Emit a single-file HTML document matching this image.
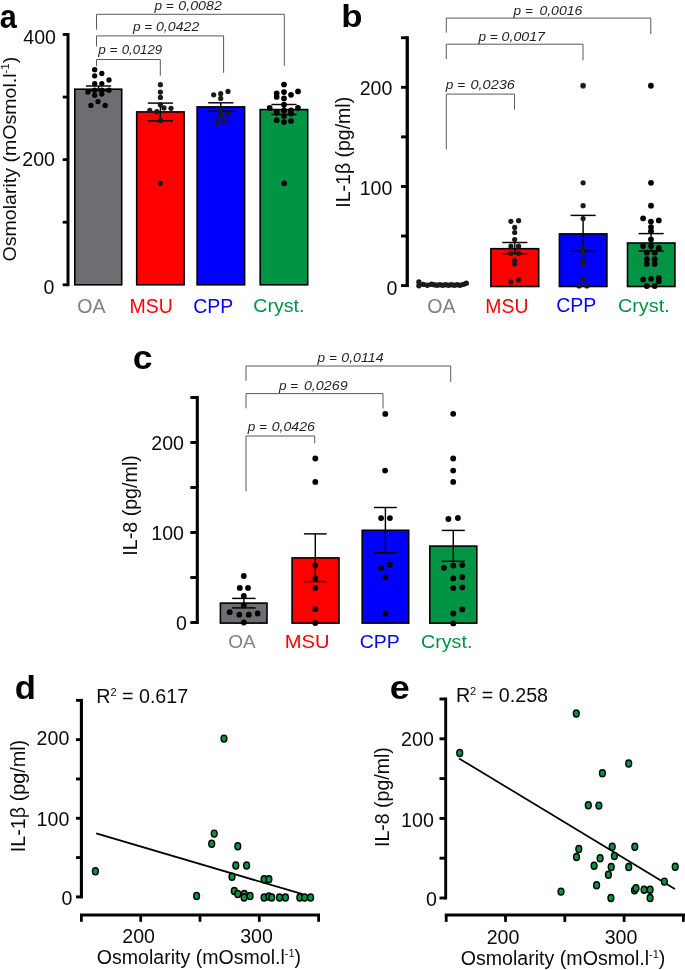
<!DOCTYPE html>
<html><head><meta charset="utf-8"><title>Figure</title>
<style>
html,body{margin:0;padding:0;background:#fff;}
svg{display:block;will-change:transform;font-family:'Liberation Sans', Arial, Helvetica, sans-serif;}
</style></head>
<body>
<svg width="685" height="970" viewBox="0 0 685 970" font-family="'Liberation Sans', Arial, Helvetica, sans-serif">
<rect x="0" y="0" width="685" height="970" fill="#fff"/>
<text transform="translate(-0.32 27.57) scale(1 1.0854)" font-size="30.65" fill="#000" font-weight="bold">a</text>
<line x1="68.00" y1="33.08" x2="68.00" y2="286.20" stroke="#000" stroke-width="3.0" stroke-linecap="butt"/>
<line x1="62.70" y1="284.80" x2="68.00" y2="284.80" stroke="#000" stroke-width="2.8" stroke-linecap="butt"/>
<line x1="62.70" y1="222.22" x2="68.00" y2="222.22" stroke="#000" stroke-width="2.8" stroke-linecap="butt"/>
<line x1="62.70" y1="159.64" x2="68.00" y2="159.64" stroke="#000" stroke-width="2.8" stroke-linecap="butt"/>
<line x1="62.70" y1="97.06" x2="68.00" y2="97.06" stroke="#000" stroke-width="2.8" stroke-linecap="butt"/>
<line x1="62.70" y1="34.48" x2="68.00" y2="34.48" stroke="#000" stroke-width="2.8" stroke-linecap="butt"/>
<text x="23.30" y="43.60" font-size="19.6" fill="#0c0c0c">400</text>
<text x="22.30" y="166.30" font-size="19.6" fill="#0c0c0c">200</text>
<text x="43.56" y="294.30" font-size="19.6" fill="#0c0c0c">0</text>
<text transform="translate(16.00 261.40) rotate(-90)" font-size="18.8" fill="#0c0c0c" textLength="204.60" lengthAdjust="spacingAndGlyphs">Osmolarity (mOsmol.l<tspan font-size="11" dy="-7">-1</tspan><tspan dy="7">)</tspan></text>
<rect x="74.80" y="89.20" width="46.90" height="195.60" fill="#6d6e71" stroke="#000" stroke-width="1.6"/>
<rect x="136.70" y="111.90" width="47.40" height="172.90" fill="#ff0000" stroke="#000" stroke-width="1.6"/>
<rect x="197.10" y="106.90" width="47.50" height="177.90" fill="#0000ff" stroke="#000" stroke-width="1.6"/>
<rect x="260.20" y="109.60" width="47.50" height="175.20" fill="#009444" stroke="#000" stroke-width="1.6"/>
<line x1="98.50" y1="86.00" x2="98.50" y2="90.80" stroke="#000" stroke-width="1.45" stroke-linecap="butt"/>
<line x1="85.90" y1="86.00" x2="111.10" y2="86.00" stroke="#000" stroke-width="1.45" stroke-linecap="butt"/>
<line x1="85.90" y1="90.80" x2="111.10" y2="90.80" stroke="#000" stroke-width="1.45" stroke-linecap="butt"/>
<line x1="160.40" y1="103.10" x2="160.40" y2="120.80" stroke="#000" stroke-width="1.45" stroke-linecap="butt"/>
<line x1="147.80" y1="103.10" x2="173.00" y2="103.10" stroke="#000" stroke-width="1.45" stroke-linecap="butt"/>
<line x1="147.80" y1="120.80" x2="173.00" y2="120.80" stroke="#000" stroke-width="1.45" stroke-linecap="butt"/>
<line x1="220.80" y1="102.80" x2="220.80" y2="111.10" stroke="#000" stroke-width="1.45" stroke-linecap="butt"/>
<line x1="208.20" y1="102.80" x2="233.40" y2="102.80" stroke="#000" stroke-width="1.45" stroke-linecap="butt"/>
<line x1="208.20" y1="111.10" x2="233.40" y2="111.10" stroke="#000" stroke-width="1.45" stroke-linecap="butt"/>
<line x1="284.00" y1="104.50" x2="284.00" y2="114.50" stroke="#000" stroke-width="1.45" stroke-linecap="butt"/>
<line x1="271.40" y1="104.50" x2="296.60" y2="104.50" stroke="#000" stroke-width="1.45" stroke-linecap="butt"/>
<line x1="271.40" y1="114.50" x2="296.60" y2="114.50" stroke="#000" stroke-width="1.45" stroke-linecap="butt"/>
<circle cx="94.70" cy="69.70" r="2.65" fill="#000"/>
<circle cx="94.70" cy="75.80" r="2.65" fill="#000"/>
<circle cx="101.80" cy="73.50" r="2.65" fill="#000"/>
<circle cx="109.00" cy="80.00" r="2.65" fill="#000"/>
<circle cx="94.70" cy="83.60" r="2.65" fill="#000"/>
<circle cx="101.80" cy="83.60" r="2.65" fill="#000"/>
<circle cx="87.90" cy="92.10" r="2.65" fill="#000"/>
<circle cx="94.70" cy="90.20" r="2.65" fill="#000"/>
<circle cx="101.80" cy="90.20" r="2.65" fill="#000"/>
<circle cx="109.00" cy="90.20" r="2.65" fill="#000"/>
<circle cx="94.70" cy="95.20" r="2.65" fill="#000"/>
<circle cx="101.80" cy="94.00" r="2.65" fill="#000"/>
<circle cx="98.00" cy="101.60" r="2.65" fill="#000"/>
<circle cx="90.90" cy="105.40" r="2.65" fill="#000"/>
<circle cx="105.20" cy="105.40" r="2.65" fill="#000"/>
<circle cx="160.40" cy="84.70" r="2.6" fill="#1d1a1b"/>
<circle cx="160.40" cy="92.10" r="2.6" fill="#1d1a1b"/>
<circle cx="160.40" cy="97.40" r="2.6" fill="#1d1a1b"/>
<circle cx="160.40" cy="104.70" r="2.6" fill="#1d1a1b"/>
<circle cx="149.80" cy="110.40" r="2.6" fill="#1d1a1b"/>
<circle cx="156.80" cy="111.70" r="2.6" fill="#1d1a1b"/>
<circle cx="164.00" cy="107.90" r="2.6" fill="#1d1a1b"/>
<circle cx="171.00" cy="108.30" r="2.6" fill="#1d1a1b"/>
<circle cx="160.40" cy="120.60" r="2.6" fill="#1d1a1b"/>
<circle cx="160.40" cy="183.30" r="2.6" fill="#1d1a1b"/>
<circle cx="213.70" cy="94.80" r="2.6" fill="#1d1a1b"/>
<circle cx="220.70" cy="93.70" r="2.6" fill="#1d1a1b"/>
<circle cx="228.00" cy="91.40" r="2.6" fill="#1d1a1b"/>
<circle cx="220.70" cy="98.40" r="2.6" fill="#1d1a1b"/>
<circle cx="220.70" cy="110.70" r="2.6" fill="#1d1a1b"/>
<circle cx="228.00" cy="114.10" r="2.6" fill="#1d1a1b"/>
<circle cx="220.70" cy="116.00" r="2.6" fill="#1d1a1b"/>
<circle cx="224.20" cy="121.20" r="2.6" fill="#1d1a1b"/>
<circle cx="217.10" cy="122.30" r="2.6" fill="#1d1a1b"/>
<circle cx="284.00" cy="84.50" r="2.85" fill="#000"/>
<circle cx="276.70" cy="93.30" r="2.85" fill="#000"/>
<circle cx="284.00" cy="92.10" r="2.85" fill="#000"/>
<circle cx="291.00" cy="94.80" r="2.85" fill="#000"/>
<circle cx="298.00" cy="91.40" r="2.85" fill="#000"/>
<circle cx="276.70" cy="96.90" r="2.85" fill="#000"/>
<circle cx="284.00" cy="98.40" r="2.85" fill="#000"/>
<circle cx="284.00" cy="104.70" r="2.85" fill="#000"/>
<circle cx="269.70" cy="107.90" r="2.85" fill="#000"/>
<circle cx="298.00" cy="107.90" r="2.85" fill="#000"/>
<circle cx="276.70" cy="111.70" r="2.85" fill="#000"/>
<circle cx="284.00" cy="110.40" r="2.85" fill="#000"/>
<circle cx="291.00" cy="110.40" r="2.85" fill="#000"/>
<circle cx="276.70" cy="113.00" r="2.85" fill="#000"/>
<circle cx="291.00" cy="113.60" r="2.85" fill="#000"/>
<circle cx="284.00" cy="116.00" r="2.85" fill="#000"/>
<circle cx="276.70" cy="120.20" r="2.85" fill="#000"/>
<circle cx="284.00" cy="122.10" r="2.85" fill="#000"/>
<circle cx="291.00" cy="121.00" r="2.85" fill="#000"/>
<circle cx="284.20" cy="183.30" r="2.85" fill="#000"/>
<polyline points="96.50,66.10 96.50,59.50 160.30,59.50 160.30,75.60" fill="none" stroke="#58595b" stroke-width="1"/>
<polyline points="96.50,46.40 96.50,35.90 223.60,35.90 223.60,72.80" fill="none" stroke="#58595b" stroke-width="1"/>
<polyline points="96.50,29.60 96.50,14.30 284.30,14.30 284.30,65.80" fill="none" stroke="#58595b" stroke-width="1"/>
<text font-size="13.6" font-style="italic" fill="#231f20"><tspan x="98.20" y="54.00">p =</tspan><tspan x="121.70" y="54.00" textLength="40.40" lengthAdjust="spacingAndGlyphs">0,0129</tspan></text>
<text font-size="13.6" font-style="italic" fill="#231f20"><tspan x="132.90" y="30.50">p =</tspan><tspan x="156.00" y="30.50" textLength="43.30" lengthAdjust="spacingAndGlyphs">0,0422</tspan></text>
<text font-size="13.6" font-style="italic" fill="#231f20"><tspan x="154.40" y="10.40">p =</tspan><tspan x="178.30" y="10.40" textLength="43.50" lengthAdjust="spacingAndGlyphs">0,0082</tspan></text>
<text transform="translate(77.32 312.61) scale(1 0.9859)" font-size="19.57" fill="#808285">OA</text>
<text transform="translate(129.54 312.61) scale(1 0.9912)" font-size="19.47" fill="#ff0000">MSU</text>
<text transform="translate(193.23 312.61) scale(1 0.9901)" font-size="19.49" fill="#0000ff">CPP</text>
<text transform="translate(253.22 312.48) scale(1 0.9738)" font-size="19.64" fill="#009444">Cryst.</text>
<text transform="translate(341.33 27.38) scale(1 0.9213)" font-size="34.85" fill="#000" font-weight="bold">b</text>
<line x1="407.25" y1="36.28" x2="407.25" y2="287.05" stroke="#000" stroke-width="3.3" stroke-linecap="butt"/>
<line x1="401.00" y1="285.60" x2="407.25" y2="285.60" stroke="#000" stroke-width="2.9" stroke-linecap="butt"/>
<line x1="401.00" y1="236.03" x2="407.25" y2="236.03" stroke="#000" stroke-width="2.9" stroke-linecap="butt"/>
<line x1="401.00" y1="186.45" x2="407.25" y2="186.45" stroke="#000" stroke-width="2.9" stroke-linecap="butt"/>
<line x1="401.00" y1="136.88" x2="407.25" y2="136.88" stroke="#000" stroke-width="2.9" stroke-linecap="butt"/>
<line x1="401.00" y1="87.30" x2="407.25" y2="87.30" stroke="#000" stroke-width="2.9" stroke-linecap="butt"/>
<line x1="401.00" y1="37.73" x2="407.25" y2="37.73" stroke="#000" stroke-width="2.9" stroke-linecap="butt"/>
<text x="359.70" y="95.00" font-size="19.6" fill="#0c0c0c">200</text>
<text x="359.70" y="194.60" font-size="19.6" fill="#0c0c0c">100</text>
<text x="386.46" y="295.10" font-size="19.6" fill="#0c0c0c">0</text>
<text transform="translate(350.40 207.70) rotate(-90)" font-size="19.6" fill="#0c0c0c" textLength="110.90" lengthAdjust="spacingAndGlyphs">IL-1β (pg/ml)</text>
<rect x="490.90" y="248.70" width="47.80" height="37.80" fill="#ff0000" stroke="#000" stroke-width="1.6"/>
<rect x="559.40" y="233.90" width="47.50" height="52.60" fill="#0000ff" stroke="#000" stroke-width="1.6"/>
<rect x="627.50" y="243.00" width="47.40" height="43.50" fill="#009444" stroke="#000" stroke-width="1.6"/>
<line x1="514.80" y1="242.50" x2="514.80" y2="253.70" stroke="#000" stroke-width="1.45" stroke-linecap="butt"/>
<line x1="502.20" y1="242.50" x2="527.40" y2="242.50" stroke="#000" stroke-width="1.45" stroke-linecap="butt"/>
<line x1="502.20" y1="253.70" x2="527.40" y2="253.70" stroke="#000" stroke-width="1.45" stroke-linecap="butt"/>
<line x1="583.10" y1="215.40" x2="583.10" y2="251.30" stroke="#000" stroke-width="1.45" stroke-linecap="butt"/>
<line x1="570.50" y1="215.40" x2="595.70" y2="215.40" stroke="#000" stroke-width="1.45" stroke-linecap="butt"/>
<line x1="570.50" y1="251.30" x2="595.70" y2="251.30" stroke="#000" stroke-width="1.45" stroke-linecap="butt"/>
<line x1="651.10" y1="233.60" x2="651.10" y2="251.00" stroke="#000" stroke-width="1.45" stroke-linecap="butt"/>
<line x1="638.50" y1="233.60" x2="663.70" y2="233.60" stroke="#000" stroke-width="1.45" stroke-linecap="butt"/>
<line x1="638.50" y1="251.00" x2="663.70" y2="251.00" stroke="#000" stroke-width="1.45" stroke-linecap="butt"/>
<circle cx="510.90" cy="221.30" r="2.6" fill="#1d1a1b"/>
<circle cx="518.60" cy="220.70" r="2.6" fill="#1d1a1b"/>
<circle cx="514.70" cy="227.40" r="2.6" fill="#1d1a1b"/>
<circle cx="514.70" cy="232.50" r="2.6" fill="#1d1a1b"/>
<circle cx="514.70" cy="239.50" r="2.6" fill="#1d1a1b"/>
<circle cx="510.90" cy="246.20" r="2.6" fill="#1d1a1b"/>
<circle cx="518.60" cy="246.20" r="2.6" fill="#1d1a1b"/>
<circle cx="510.90" cy="253.40" r="2.6" fill="#1d1a1b"/>
<circle cx="518.60" cy="253.40" r="2.6" fill="#1d1a1b"/>
<circle cx="514.70" cy="260.50" r="2.6" fill="#1d1a1b"/>
<circle cx="514.70" cy="264.00" r="2.6" fill="#1d1a1b"/>
<circle cx="518.60" cy="279.90" r="2.6" fill="#1d1a1b"/>
<circle cx="510.90" cy="282.00" r="2.6" fill="#1d1a1b"/>
<circle cx="583.10" cy="182.80" r="2.6" fill="#1d1a1b"/>
<circle cx="583.10" cy="205.70" r="2.6" fill="#1d1a1b"/>
<circle cx="583.10" cy="218.50" r="2.6" fill="#1d1a1b"/>
<circle cx="583.10" cy="248.00" r="2.6" fill="#1d1a1b"/>
<circle cx="583.10" cy="252.30" r="2.6" fill="#1d1a1b"/>
<circle cx="583.10" cy="259.80" r="2.6" fill="#1d1a1b"/>
<circle cx="583.10" cy="263.90" r="2.6" fill="#1d1a1b"/>
<circle cx="583.10" cy="279.20" r="2.6" fill="#1d1a1b"/>
<circle cx="579.10" cy="286.00" r="2.6" fill="#1d1a1b"/>
<circle cx="586.90" cy="286.00" r="2.6" fill="#1d1a1b"/>
<circle cx="650.90" cy="85.75" r="2.9" fill="#000"/>
<circle cx="651.00" cy="182.80" r="2.9" fill="#000"/>
<circle cx="651.00" cy="205.70" r="2.9" fill="#000"/>
<circle cx="643.10" cy="218.30" r="2.9" fill="#000"/>
<circle cx="650.90" cy="221.60" r="2.9" fill="#000"/>
<circle cx="658.80" cy="220.40" r="2.9" fill="#000"/>
<circle cx="651.00" cy="227.10" r="2.9" fill="#000"/>
<circle cx="651.00" cy="231.20" r="2.9" fill="#000"/>
<circle cx="651.00" cy="239.40" r="2.9" fill="#000"/>
<circle cx="643.10" cy="246.10" r="2.9" fill="#000"/>
<circle cx="651.00" cy="246.10" r="2.9" fill="#000"/>
<circle cx="658.80" cy="248.00" r="2.9" fill="#000"/>
<circle cx="646.80" cy="252.70" r="2.9" fill="#000"/>
<circle cx="654.70" cy="252.70" r="2.9" fill="#000"/>
<circle cx="646.80" cy="259.20" r="2.9" fill="#000"/>
<circle cx="654.70" cy="259.20" r="2.9" fill="#000"/>
<circle cx="646.80" cy="263.90" r="2.9" fill="#000"/>
<circle cx="654.70" cy="263.90" r="2.9" fill="#000"/>
<circle cx="643.10" cy="279.60" r="2.9" fill="#000"/>
<circle cx="651.00" cy="278.80" r="2.9" fill="#000"/>
<circle cx="658.80" cy="277.80" r="2.9" fill="#000"/>
<circle cx="658.80" cy="281.30" r="2.9" fill="#000"/>
<circle cx="646.80" cy="286.00" r="2.9" fill="#000"/>
<circle cx="654.70" cy="286.00" r="2.9" fill="#000"/>
<circle cx="583.10" cy="85.75" r="2.9" fill="#3a3a78"/>
<circle cx="583.10" cy="85.75" r="2.3" fill="#1d1a1b"/>
<circle cx="418.90" cy="281.90" r="2.7" fill="#1d1a1b"/>
<circle cx="418.90" cy="285.80" r="2.7" fill="#1d1a1b"/>
<circle cx="423.40" cy="284.40" r="2.7" fill="#1d1a1b"/>
<circle cx="427.40" cy="285.20" r="2.7" fill="#1d1a1b"/>
<circle cx="431.40" cy="284.20" r="2.7" fill="#1d1a1b"/>
<circle cx="434.00" cy="284.80" r="2.7" fill="#1d1a1b"/>
<circle cx="436.90" cy="285.30" r="2.7" fill="#1d1a1b"/>
<circle cx="439.80" cy="284.80" r="2.7" fill="#1d1a1b"/>
<circle cx="442.70" cy="285.30" r="2.7" fill="#1d1a1b"/>
<circle cx="445.60" cy="284.80" r="2.7" fill="#1d1a1b"/>
<circle cx="448.50" cy="285.30" r="2.7" fill="#1d1a1b"/>
<circle cx="451.40" cy="284.80" r="2.7" fill="#1d1a1b"/>
<circle cx="454.30" cy="285.30" r="2.7" fill="#1d1a1b"/>
<circle cx="457.20" cy="284.80" r="2.7" fill="#1d1a1b"/>
<circle cx="460.10" cy="285.30" r="2.7" fill="#1d1a1b"/>
<circle cx="463.20" cy="284.40" r="2.7" fill="#1d1a1b"/>
<circle cx="466.30" cy="283.30" r="2.7" fill="#1d1a1b"/>
<polyline points="446.30,149.40 446.30,94.10 514.50,94.10 514.50,109.50" fill="none" stroke="#58595b" stroke-width="1"/>
<polyline points="446.30,59.00 446.30,44.20 583.00,44.20 583.00,60.30" fill="none" stroke="#58595b" stroke-width="1"/>
<polyline points="446.30,32.60 446.30,18.10 650.80,18.10 650.80,34.10" fill="none" stroke="#58595b" stroke-width="1"/>
<text font-size="13.6" font-style="italic" fill="#231f20"><tspan x="445.80" y="89.40">p =</tspan><tspan x="470.50" y="89.40" textLength="44.40" lengthAdjust="spacingAndGlyphs">0,0236</tspan></text>
<text font-size="13.6" font-style="italic" fill="#231f20"><tspan x="478.50" y="40.90">p =</tspan><tspan x="501.60" y="40.90" textLength="43.40" lengthAdjust="spacingAndGlyphs">0,0017</tspan></text>
<text font-size="13.6" font-style="italic" fill="#231f20"><tspan x="513.60" y="14.60">p =</tspan><tspan x="539.40" y="14.60" textLength="43.00" lengthAdjust="spacingAndGlyphs">0,0016</tspan></text>
<text transform="translate(427.32 312.61) scale(1 0.9859)" font-size="19.57" fill="#808285">OA</text>
<text transform="translate(485.35 312.61) scale(1 0.9961)" font-size="19.37" fill="#ff0000">MSU</text>
<text transform="translate(556.22 312.41) scale(1 0.9875)" font-size="19.54" fill="#0000ff">CPP</text>
<text transform="translate(617.91 312.36) scale(1 0.9694)" font-size="19.84" fill="#009444">Cryst.</text>
<text transform="translate(132.68 369.26) scale(1 0.9536)" font-size="35.46" fill="#000" font-weight="bold">c</text>
<line x1="197.30" y1="396.05" x2="197.30" y2="623.95" stroke="#000" stroke-width="3.1" stroke-linecap="butt"/>
<line x1="190.30" y1="622.50" x2="197.30" y2="622.50" stroke="#000" stroke-width="2.9" stroke-linecap="butt"/>
<line x1="190.30" y1="577.50" x2="197.30" y2="577.50" stroke="#000" stroke-width="2.9" stroke-linecap="butt"/>
<line x1="190.30" y1="532.50" x2="197.30" y2="532.50" stroke="#000" stroke-width="2.9" stroke-linecap="butt"/>
<line x1="190.30" y1="487.50" x2="197.30" y2="487.50" stroke="#000" stroke-width="2.9" stroke-linecap="butt"/>
<line x1="190.30" y1="442.50" x2="197.30" y2="442.50" stroke="#000" stroke-width="2.9" stroke-linecap="butt"/>
<line x1="190.30" y1="397.50" x2="197.30" y2="397.50" stroke="#000" stroke-width="2.9" stroke-linecap="butt"/>
<text x="151.30" y="450.10" font-size="19.6" fill="#0c0c0c">200</text>
<text x="151.30" y="540.30" font-size="19.6" fill="#0c0c0c">100</text>
<text x="175.96" y="630.00" font-size="19.6" fill="#0c0c0c">0</text>
<text transform="translate(137.20 555.70) rotate(-90)" font-size="19.6" fill="#0c0c0c" textLength="100.50" lengthAdjust="spacingAndGlyphs">IL-8 (pg/ml)</text>
<rect x="220.40" y="603.10" width="46.60" height="20.00" fill="#6d6e71" stroke="#000" stroke-width="1.6"/>
<rect x="292.10" y="557.90" width="46.90" height="65.20" fill="#ff0000" stroke="#000" stroke-width="1.6"/>
<rect x="362.20" y="530.30" width="46.50" height="92.80" fill="#0000ff" stroke="#000" stroke-width="1.6"/>
<rect x="429.80" y="546.10" width="47.00" height="77.00" fill="#009444" stroke="#000" stroke-width="1.6"/>
<line x1="243.90" y1="598.40" x2="243.90" y2="607.90" stroke="#000" stroke-width="1.45" stroke-linecap="butt"/>
<line x1="232.20" y1="598.40" x2="255.60" y2="598.40" stroke="#000" stroke-width="1.45" stroke-linecap="butt"/>
<line x1="232.20" y1="607.90" x2="255.60" y2="607.90" stroke="#000" stroke-width="1.45" stroke-linecap="butt"/>
<line x1="315.30" y1="533.90" x2="315.30" y2="581.60" stroke="#000" stroke-width="1.45" stroke-linecap="butt"/>
<line x1="303.90" y1="533.90" x2="326.70" y2="533.90" stroke="#000" stroke-width="1.45" stroke-linecap="butt"/>
<line x1="303.90" y1="581.60" x2="326.70" y2="581.60" stroke="#000" stroke-width="1.45" stroke-linecap="butt"/>
<line x1="385.40" y1="507.50" x2="385.40" y2="552.70" stroke="#000" stroke-width="1.45" stroke-linecap="butt"/>
<line x1="374.00" y1="507.50" x2="396.80" y2="507.50" stroke="#000" stroke-width="1.45" stroke-linecap="butt"/>
<line x1="374.00" y1="552.70" x2="396.80" y2="552.70" stroke="#000" stroke-width="1.45" stroke-linecap="butt"/>
<line x1="453.30" y1="530.40" x2="453.30" y2="561.30" stroke="#000" stroke-width="1.45" stroke-linecap="butt"/>
<line x1="441.80" y1="530.40" x2="464.80" y2="530.40" stroke="#000" stroke-width="1.45" stroke-linecap="butt"/>
<line x1="441.80" y1="561.30" x2="464.80" y2="561.30" stroke="#000" stroke-width="1.45" stroke-linecap="butt"/>
<circle cx="243.80" cy="576.00" r="2.9" fill="#000"/>
<circle cx="239.80" cy="587.90" r="2.9" fill="#000"/>
<circle cx="248.00" cy="587.90" r="2.9" fill="#000"/>
<circle cx="243.80" cy="595.90" r="2.9" fill="#000"/>
<circle cx="243.80" cy="605.40" r="2.9" fill="#000"/>
<circle cx="229.70" cy="612.20" r="2.9" fill="#000"/>
<circle cx="239.30" cy="614.70" r="2.9" fill="#000"/>
<circle cx="248.80" cy="614.70" r="2.9" fill="#000"/>
<circle cx="257.60" cy="613.50" r="2.9" fill="#000"/>
<circle cx="243.80" cy="622.50" r="2.9" fill="#000"/>
<circle cx="315.30" cy="458.50" r="2.9" fill="#000"/>
<circle cx="315.30" cy="481.90" r="2.9" fill="#000"/>
<circle cx="315.30" cy="565.30" r="2.9" fill="#000"/>
<circle cx="315.30" cy="578.30" r="2.9" fill="#000"/>
<circle cx="315.30" cy="587.90" r="2.9" fill="#000"/>
<circle cx="315.30" cy="609.20" r="2.9" fill="#000"/>
<circle cx="315.30" cy="623.00" r="2.9" fill="#000"/>
<circle cx="385.30" cy="413.90" r="2.9" fill="#000"/>
<circle cx="385.10" cy="470.60" r="2.9" fill="#000"/>
<circle cx="381.10" cy="518.10" r="2.9" fill="#000"/>
<circle cx="389.90" cy="518.10" r="2.9" fill="#000"/>
<circle cx="381.10" cy="567.80" r="2.9" fill="#000"/>
<circle cx="389.90" cy="564.80" r="2.9" fill="#000"/>
<circle cx="385.40" cy="577.10" r="2.9" fill="#000"/>
<circle cx="385.40" cy="613.50" r="2.9" fill="#000"/>
<circle cx="453.20" cy="413.80" r="2.9" fill="#000"/>
<circle cx="453.20" cy="458.50" r="2.9" fill="#000"/>
<circle cx="453.20" cy="470.60" r="2.9" fill="#000"/>
<circle cx="453.20" cy="481.90" r="2.9" fill="#000"/>
<circle cx="448.40" cy="519.00" r="2.9" fill="#000"/>
<circle cx="457.90" cy="518.00" r="2.9" fill="#000"/>
<circle cx="444.00" cy="567.80" r="2.9" fill="#000"/>
<circle cx="453.30" cy="565.50" r="2.9" fill="#000"/>
<circle cx="462.30" cy="565.10" r="2.9" fill="#000"/>
<circle cx="453.30" cy="578.40" r="2.9" fill="#000"/>
<circle cx="462.30" cy="577.10" r="2.9" fill="#000"/>
<circle cx="453.30" cy="588.10" r="2.9" fill="#000"/>
<circle cx="462.30" cy="587.30" r="2.9" fill="#000"/>
<circle cx="462.30" cy="609.50" r="2.9" fill="#000"/>
<circle cx="453.30" cy="613.50" r="2.9" fill="#000"/>
<circle cx="453.30" cy="623.40" r="2.9" fill="#000"/>
<polyline points="246.00,491.40 246.00,436.00 314.70,436.00 314.70,443.40" fill="none" stroke="#58595b" stroke-width="1"/>
<polyline points="246.00,408.30 246.00,393.60 383.00,393.60 383.00,408.50" fill="none" stroke="#58595b" stroke-width="1"/>
<polyline points="246.00,380.70 246.00,366.00 450.70,366.00 450.70,381.90" fill="none" stroke="#58595b" stroke-width="1"/>
<text font-size="13.6" font-style="italic" fill="#231f20"><tspan x="247.70" y="431.00">p =</tspan><tspan x="271.70" y="431.00" textLength="43.20" lengthAdjust="spacingAndGlyphs">0,0426</tspan></text>
<text font-size="13.6" font-style="italic" fill="#231f20"><tspan x="279.00" y="389.80">p =</tspan><tspan x="303.90" y="389.80" textLength="43.70" lengthAdjust="spacingAndGlyphs">0,0269</tspan></text>
<text font-size="13.6" font-style="italic" fill="#231f20"><tspan x="317.60" y="361.80">p =</tspan><tspan x="341.30" y="361.80" textLength="42.30" lengthAdjust="spacingAndGlyphs">0,0114</tspan></text>
<text transform="translate(228.35 647.72) scale(1 0.9414)" font-size="19.00" fill="#808285">OA</text>
<text transform="translate(284.69 647.72) scale(1 0.8879)" font-size="20.15" fill="#ff0000">MSU</text>
<text transform="translate(359.73 647.72) scale(1 0.9203)" font-size="19.44" fill="#0000ff">CPP</text>
<text transform="translate(421.02 647.89) scale(1 0.9215)" font-size="19.68" fill="#009444">Cryst.</text>
<text transform="translate(14.71 699.17) scale(1 0.9541)" font-size="34.65" fill="#000" font-weight="bold">d</text>
<line x1="81.40" y1="698.90" x2="81.40" y2="898.35" stroke="#000" stroke-width="3.1" stroke-linecap="butt"/>
<line x1="76.00" y1="896.90" x2="81.40" y2="896.90" stroke="#000" stroke-width="2.9" stroke-linecap="butt"/>
<line x1="76.00" y1="857.59" x2="81.40" y2="857.59" stroke="#000" stroke-width="2.9" stroke-linecap="butt"/>
<line x1="76.00" y1="818.28" x2="81.40" y2="818.28" stroke="#000" stroke-width="2.9" stroke-linecap="butt"/>
<line x1="76.00" y1="778.97" x2="81.40" y2="778.97" stroke="#000" stroke-width="2.9" stroke-linecap="butt"/>
<line x1="76.00" y1="739.66" x2="81.40" y2="739.66" stroke="#000" stroke-width="2.9" stroke-linecap="butt"/>
<line x1="76.00" y1="700.35" x2="81.40" y2="700.35" stroke="#000" stroke-width="2.9" stroke-linecap="butt"/>
<text x="36.60" y="745.10" font-size="19.6" fill="#0c0c0c">200</text>
<text x="36.60" y="826.30" font-size="19.6" fill="#0c0c0c">100</text>
<text x="61.46" y="904.90" font-size="19.6" fill="#0c0c0c">0</text>
<text transform="translate(24.80 852.30) rotate(-90)" font-size="20.2" fill="#0c0c0c" textLength="112.50" lengthAdjust="spacingAndGlyphs">IL-1β (pg/ml)</text>
<text x="96.20" y="702.70" font-size="19.6" fill="#0c0c0c" textLength="92.00" lengthAdjust="spacingAndGlyphs">R<tspan font-size="11" dy="-7">2</tspan><tspan dy="7"> = 0.617</tspan></text>
<line x1="80.00" y1="915.00" x2="320.00" y2="915.00" stroke="#000" stroke-width="2.8" stroke-linecap="butt"/>
<line x1="81.40" y1="915.00" x2="81.40" y2="921.80" stroke="#000" stroke-width="2.8" stroke-linecap="butt"/>
<line x1="140.70" y1="915.00" x2="140.70" y2="921.80" stroke="#000" stroke-width="2.8" stroke-linecap="butt"/>
<line x1="200.00" y1="915.00" x2="200.00" y2="921.80" stroke="#000" stroke-width="2.8" stroke-linecap="butt"/>
<line x1="259.30" y1="915.00" x2="259.30" y2="921.80" stroke="#000" stroke-width="2.8" stroke-linecap="butt"/>
<line x1="318.60" y1="915.00" x2="318.60" y2="921.80" stroke="#000" stroke-width="2.8" stroke-linecap="butt"/>
<text x="122.24" y="943.30" font-size="19.6" fill="#0c0c0c">200</text>
<text x="240.23" y="943.30" font-size="19.6" fill="#0c0c0c">300</text>
<text x="96.80" y="963.90" font-size="19.6" fill="#0c0c0c" textLength="204.30" lengthAdjust="spacingAndGlyphs">Osmolarity (mOsmol.l<tspan font-size="11" dy="-7">-1</tspan><tspan dy="7">)</tspan></text>
<line x1="96.20" y1="833.40" x2="302.60" y2="894.20" stroke="#000" stroke-width="1.75" stroke-linecap="butt"/>
<ellipse cx="95.40" cy="871.30" rx="2.9" ry="3.5" fill="#009444" stroke="#000" stroke-width="1.45"/>
<ellipse cx="224.00" cy="738.60" rx="2.9" ry="3.5" fill="#009444" stroke="#000" stroke-width="1.45"/>
<ellipse cx="214.20" cy="833.60" rx="2.9" ry="3.5" fill="#009444" stroke="#000" stroke-width="1.45"/>
<ellipse cx="211.70" cy="843.70" rx="2.9" ry="3.5" fill="#009444" stroke="#000" stroke-width="1.45"/>
<ellipse cx="237.80" cy="846.20" rx="2.9" ry="3.5" fill="#009444" stroke="#000" stroke-width="1.45"/>
<ellipse cx="235.80" cy="865.50" rx="2.9" ry="3.5" fill="#009444" stroke="#000" stroke-width="1.45"/>
<ellipse cx="246.60" cy="865.50" rx="2.9" ry="3.5" fill="#009444" stroke="#000" stroke-width="1.45"/>
<ellipse cx="232.00" cy="876.80" rx="2.9" ry="3.5" fill="#009444" stroke="#000" stroke-width="1.45"/>
<ellipse cx="264.10" cy="879.30" rx="2.9" ry="3.5" fill="#009444" stroke="#000" stroke-width="1.45"/>
<ellipse cx="268.90" cy="879.30" rx="2.9" ry="3.5" fill="#009444" stroke="#000" stroke-width="1.45"/>
<ellipse cx="196.60" cy="895.90" rx="2.9" ry="3.5" fill="#009444" stroke="#000" stroke-width="1.45"/>
<ellipse cx="234.30" cy="890.90" rx="2.9" ry="3.5" fill="#009444" stroke="#000" stroke-width="1.45"/>
<ellipse cx="237.80" cy="893.90" rx="2.9" ry="3.5" fill="#009444" stroke="#000" stroke-width="1.45"/>
<ellipse cx="244.30" cy="893.90" rx="2.9" ry="3.5" fill="#009444" stroke="#000" stroke-width="1.45"/>
<ellipse cx="244.10" cy="897.40" rx="2.9" ry="3.5" fill="#009444" stroke="#000" stroke-width="1.45"/>
<ellipse cx="250.10" cy="895.90" rx="2.9" ry="3.5" fill="#009444" stroke="#000" stroke-width="1.45"/>
<ellipse cx="264.10" cy="897.40" rx="2.9" ry="3.5" fill="#009444" stroke="#000" stroke-width="1.45"/>
<ellipse cx="268.90" cy="896.40" rx="2.9" ry="3.5" fill="#009444" stroke="#000" stroke-width="1.45"/>
<ellipse cx="271.70" cy="897.40" rx="2.9" ry="3.5" fill="#009444" stroke="#000" stroke-width="1.45"/>
<ellipse cx="279.50" cy="897.40" rx="2.9" ry="3.5" fill="#009444" stroke="#000" stroke-width="1.45"/>
<ellipse cx="285.50" cy="897.40" rx="2.9" ry="3.5" fill="#009444" stroke="#000" stroke-width="1.45"/>
<ellipse cx="299.80" cy="897.40" rx="2.9" ry="3.5" fill="#009444" stroke="#000" stroke-width="1.45"/>
<ellipse cx="304.60" cy="897.40" rx="2.9" ry="3.5" fill="#009444" stroke="#000" stroke-width="1.45"/>
<ellipse cx="310.60" cy="897.40" rx="2.9" ry="3.5" fill="#009444" stroke="#000" stroke-width="1.45"/>
<text transform="translate(389.67 699.17) scale(1 0.9336)" font-size="35.83" fill="#000" font-weight="bold">e</text>
<line x1="445.70" y1="697.55" x2="445.70" y2="899.45" stroke="#000" stroke-width="2.9" stroke-linecap="butt"/>
<line x1="439.50" y1="898.00" x2="445.70" y2="898.00" stroke="#000" stroke-width="2.9" stroke-linecap="butt"/>
<line x1="439.50" y1="858.20" x2="445.70" y2="858.20" stroke="#000" stroke-width="2.9" stroke-linecap="butt"/>
<line x1="439.50" y1="818.40" x2="445.70" y2="818.40" stroke="#000" stroke-width="2.9" stroke-linecap="butt"/>
<line x1="439.50" y1="778.60" x2="445.70" y2="778.60" stroke="#000" stroke-width="2.9" stroke-linecap="butt"/>
<line x1="439.50" y1="738.80" x2="445.70" y2="738.80" stroke="#000" stroke-width="2.9" stroke-linecap="butt"/>
<line x1="439.50" y1="699.00" x2="445.70" y2="699.00" stroke="#000" stroke-width="2.9" stroke-linecap="butt"/>
<text x="401.10" y="745.90" font-size="19.6" fill="#0c0c0c">200</text>
<text x="401.10" y="827.30" font-size="19.6" fill="#0c0c0c">100</text>
<text x="425.96" y="906.40" font-size="19.6" fill="#0c0c0c">0</text>
<text transform="translate(389.10 846.90) rotate(-90)" font-size="19.9" fill="#0c0c0c" textLength="99.70" lengthAdjust="spacingAndGlyphs">IL-8 (pg/ml)</text>
<text x="455.90" y="701.60" font-size="19.6" fill="#0c0c0c" textLength="92.20" lengthAdjust="spacingAndGlyphs">R<tspan font-size="11" dy="-7">2</tspan><tspan dy="7"> = 0.258</tspan></text>
<line x1="444.80" y1="915.00" x2="685.00" y2="915.00" stroke="#000" stroke-width="2.8" stroke-linecap="butt"/>
<line x1="446.20" y1="915.00" x2="446.20" y2="921.90" stroke="#000" stroke-width="2.8" stroke-linecap="butt"/>
<line x1="505.50" y1="915.00" x2="505.50" y2="921.90" stroke="#000" stroke-width="2.8" stroke-linecap="butt"/>
<line x1="564.80" y1="915.00" x2="564.80" y2="921.90" stroke="#000" stroke-width="2.8" stroke-linecap="butt"/>
<line x1="624.10" y1="915.00" x2="624.10" y2="921.90" stroke="#000" stroke-width="2.8" stroke-linecap="butt"/>
<line x1="683.40" y1="915.00" x2="683.40" y2="921.90" stroke="#000" stroke-width="2.8" stroke-linecap="butt"/>
<text x="486.64" y="944.00" font-size="19.6" fill="#0c0c0c">200</text>
<text x="604.63" y="944.00" font-size="19.6" fill="#0c0c0c">300</text>
<text x="460.70" y="964.50" font-size="19.6" fill="#0c0c0c" textLength="204.70" lengthAdjust="spacingAndGlyphs">Osmolarity (mOsmol.l<tspan font-size="11" dy="-7">-1</tspan><tspan dy="7">)</tspan></text>
<line x1="459.00" y1="758.40" x2="674.90" y2="889.10" stroke="#000" stroke-width="1.75" stroke-linecap="butt"/>
<ellipse cx="459.70" cy="752.90" rx="2.9" ry="3.5" fill="#009444" stroke="#000" stroke-width="1.45"/>
<ellipse cx="576.30" cy="713.40" rx="2.9" ry="3.5" fill="#009444" stroke="#000" stroke-width="1.45"/>
<ellipse cx="628.70" cy="763.40" rx="2.9" ry="3.5" fill="#009444" stroke="#000" stroke-width="1.45"/>
<ellipse cx="602.40" cy="773.20" rx="2.9" ry="3.5" fill="#009444" stroke="#000" stroke-width="1.45"/>
<ellipse cx="588.30" cy="805.30" rx="2.9" ry="3.5" fill="#009444" stroke="#000" stroke-width="1.45"/>
<ellipse cx="598.90" cy="805.60" rx="2.9" ry="3.5" fill="#009444" stroke="#000" stroke-width="1.45"/>
<ellipse cx="578.80" cy="848.90" rx="2.9" ry="3.5" fill="#009444" stroke="#000" stroke-width="1.45"/>
<ellipse cx="576.50" cy="857.00" rx="2.9" ry="3.5" fill="#009444" stroke="#000" stroke-width="1.45"/>
<ellipse cx="612.20" cy="846.70" rx="2.9" ry="3.5" fill="#009444" stroke="#000" stroke-width="1.45"/>
<ellipse cx="634.80" cy="846.70" rx="2.9" ry="3.5" fill="#009444" stroke="#000" stroke-width="1.45"/>
<ellipse cx="614.40" cy="856.00" rx="2.9" ry="3.5" fill="#009444" stroke="#000" stroke-width="1.45"/>
<ellipse cx="600.10" cy="858.20" rx="2.9" ry="3.5" fill="#009444" stroke="#000" stroke-width="1.45"/>
<ellipse cx="594.10" cy="865.70" rx="2.9" ry="3.5" fill="#009444" stroke="#000" stroke-width="1.45"/>
<ellipse cx="611.20" cy="867.00" rx="2.9" ry="3.5" fill="#009444" stroke="#000" stroke-width="1.45"/>
<ellipse cx="628.70" cy="867.00" rx="2.9" ry="3.5" fill="#009444" stroke="#000" stroke-width="1.45"/>
<ellipse cx="675.20" cy="866.70" rx="2.9" ry="3.5" fill="#009444" stroke="#000" stroke-width="1.45"/>
<ellipse cx="608.40" cy="874.80" rx="2.9" ry="3.5" fill="#009444" stroke="#000" stroke-width="1.45"/>
<ellipse cx="596.60" cy="885.30" rx="2.9" ry="3.5" fill="#009444" stroke="#000" stroke-width="1.45"/>
<ellipse cx="664.40" cy="881.60" rx="2.9" ry="3.5" fill="#009444" stroke="#000" stroke-width="1.45"/>
<ellipse cx="561.00" cy="891.60" rx="2.9" ry="3.5" fill="#009444" stroke="#000" stroke-width="1.45"/>
<ellipse cx="634.50" cy="890.30" rx="2.9" ry="3.5" fill="#009444" stroke="#000" stroke-width="1.45"/>
<ellipse cx="636.00" cy="888.30" rx="2.9" ry="3.5" fill="#009444" stroke="#000" stroke-width="1.45"/>
<ellipse cx="644.10" cy="889.80" rx="2.9" ry="3.5" fill="#009444" stroke="#000" stroke-width="1.45"/>
<ellipse cx="650.10" cy="889.80" rx="2.9" ry="3.5" fill="#009444" stroke="#000" stroke-width="1.45"/>
<ellipse cx="650.10" cy="897.90" rx="2.9" ry="3.5" fill="#009444" stroke="#000" stroke-width="1.45"/>
<ellipse cx="610.90" cy="897.90" rx="2.9" ry="3.5" fill="#009444" stroke="#000" stroke-width="1.45"/>
</svg>
</body></html>
